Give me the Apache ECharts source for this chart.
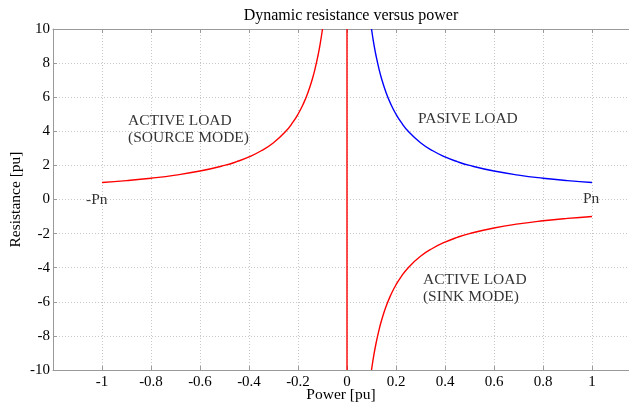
<!DOCTYPE html>
<html>
<head>
<meta charset="utf-8">
<script src="https://cdn.jsdelivr.net/npm/echarts@6/dist/echarts.min.js"></script>
<style>html,body{margin:0;padding:0;background:#fff}#c{width:629px;height:405px}</style>
</head>
<body>
<div id="c"></div>
<script>
// Values
var sourceP = [-1, -0.9, -0.8, -0.7, -0.6, -0.5, -0.45, -0.4, -0.35, -0.3, -0.25, -0.22, -0.2, -0.18, -0.16, -0.14, -0.13, -0.12, -0.11, -0.1];
var sourceR = [1, 1.11, 1.25, 1.43, 1.67, 2, 2.22, 2.5, 2.86, 3.33, 4, 4.55, 5, 5.56, 6.25, 7.14, 7.69, 8.33, 9.09, 10];
var passiveP = [0.1, 0.11, 0.12, 0.13, 0.14, 0.16, 0.18, 0.2, 0.22, 0.25, 0.3, 0.35, 0.4, 0.45, 0.5, 0.6, 0.7, 0.8, 0.9, 1];
var passiveR = [10, 9.09, 8.33, 7.69, 7.14, 6.25, 5.56, 5, 4.55, 4, 3.33, 2.86, 2.5, 2.22, 2, 1.67, 1.43, 1.25, 1.11, 1];
var sinkP = [0.1, 0.11, 0.12, 0.13, 0.14, 0.16, 0.18, 0.2, 0.22, 0.25, 0.3, 0.35, 0.4, 0.45, 0.5, 0.6, 0.7, 0.8, 0.9, 1];
var sinkR = [-10, -9.09, -8.33, -7.69, -7.14, -6.25, -5.56, -5, -4.55, -4, -3.33, -2.86, -2.5, -2.22, -2, -1.67, -1.43, -1.25, -1.11, -1];
var zeroP = [0, 0];
var zeroR = [-10, 10];
var xTicks = [-1, -0.8, -0.6, -0.4, -0.2, 0, 0.2, 0.4, 0.6, 0.8, 1];
var yTicks = [-10, -8, -6, -4, -2, 0, 2, 4, 6, 8, 10];
var annotations = [
  {text: 'ACTIVE LOAD\n(SOURCE MODE)', p: -0.894, r: 4.1},
  {text: 'PASIVE LOAD', p: 0.29, r: 4.7},
  {text: 'ACTIVE LOAD\n(SINK MODE)', p: 0.31, r: -5.2},
  {text: '-Pn', p: -1.065, r: -0.05},
  {text: 'Pn', p: 0.963, r: 0.05}
];

function zip(a, b) { return a.map(function (v, i) { return [v, b[i]]; }); }
var FONT = 'Liberation Serif';
var axisGray = '#9a9a9a';
var gridStyle = {show: true, lineStyle: {color: '#c8c8c8', type: [1, 2], width: 1}};
var xMin = -1.2, xMax = 1.151;

var chart = echarts.init(document.getElementById('c'), null, {renderer: 'canvas'});
chart.setOption({
  animation: false,
  backgroundColor: '#fff',
  title: {
    text: 'Dynamic resistance versus power',
    left: 346, top: 3, textAlign: 'center',
    textStyle: {fontFamily: FONT, fontSize: 16, fontWeight: 'normal', color: '#000'}
  },
  grid: {left: 53, top: 29, bottom: 35, right: 0, containLabel: false, outerBoundsMode: 'none'},
  xAxis: [{
    type: 'value', min: xMin, max: xMax, interval: 0.2,
    name: 'Power [pu]', nameLocation: 'middle', nameGap: 17, nameMoveOverlap: false,
    nameTextStyle: {fontFamily: FONT, fontSize: 15.5, color: '#000'},
    axisLine: {show: true, onZero: false, lineStyle: {color: axisGray}},
    axisTick: {show: true, inside: true, length: 4, lineStyle: {color: axisGray}},
    axisLabel: {
      fontFamily: FONT, fontSize: 15, color: '#000', margin: 5,
      showMinLabel: false, showMaxLabel: false,
      formatter: function (v) { var r = Math.round(v * 10) / 10; return (xTicks.indexOf(r) >= 0 && Math.abs(v - r) < 1e-6) ? String(r) : ''; }
    },
    splitLine: gridStyle
  }, {
    type: 'value', position: 'top', min: xMin, max: xMax, interval: 0.2,
    axisLine: {show: true, onZero: false, lineStyle: {color: axisGray}},
    axisTick: {show: true, inside: true, length: 4, lineStyle: {color: axisGray}},
    axisLabel: {show: false}, splitLine: {show: false}
  }],
  yAxis: {
    type: 'value', min: -10, max: 10, interval: 2,
    name: 'Resistance [pu]', nameLocation: 'middle', nameGap: 29, nameRotate: 90, nameMoveOverlap: false,
    nameTextStyle: {fontFamily: FONT, fontSize: 15.5, color: '#000'},
    axisLine: {show: true, onZero: false, lineStyle: {color: axisGray}},
    axisTick: {show: true, inside: true, length: 4, lineStyle: {color: axisGray}},
    axisLabel: {fontFamily: FONT, fontSize: 15, color: '#000', margin: 3,
      formatter: function (v) { return yTicks.indexOf(v) >= 0 ? String(v) : ''; }},
    splitLine: gridStyle
  },
  series: [
    {type: 'line', data: zip(sourceP, sourceR), smooth: true, symbol: 'none', lineStyle: {color: '#ff0000', width: 1.4}},
    {type: 'line', data: zip(zeroP, zeroR), symbol: 'none', lineStyle: {color: '#ff0000', width: 1.4}},
    {type: 'line', data: zip(passiveP, passiveR), smooth: true, symbol: 'none', lineStyle: {color: '#0000ff', width: 1.4}},
    {type: 'line', data: zip(sinkP, sinkR), smooth: true, symbol: 'none', lineStyle: {color: '#ff0000', width: 1.4}},
    {type: 'scatter', symbolSize: 0, silent: true,
      data: annotations.map(function (a) { return {value: [a.p, a.r], name: a.text}; }),
      label: {show: true, position: 'inside', align: 'left', verticalAlign: 'middle',
        formatter: function (p) { return p.name; },
        fontFamily: FONT, fontSize: 15.5, lineHeight: 17, color: '#000'}}
  ]
});
</script>
</body>
</html>
